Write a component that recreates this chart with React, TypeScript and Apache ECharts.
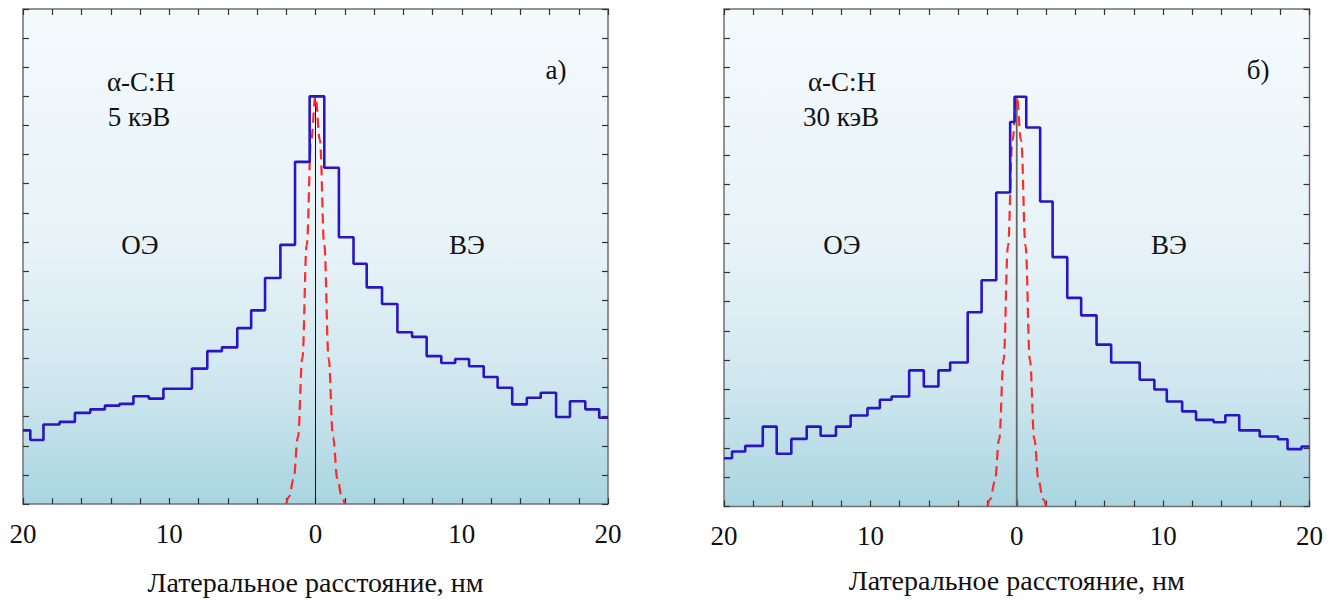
import React, { useEffect, useRef } from "react";
import * as echarts from "echarts";

// Panel а) 5 кэВ — histogram bin edges (nm) and heights (arb. units)
const edgesA = [
  -20, -19.5, -18.6, -17.5, -16.45, -15.4, -14.4, -13.4, -12.45, -11.4, -10.4,
  -8.45, -7.4, -6.4, -5.35, -4.4, -3.45, -2.4, -1.4, -0.4, 0.6, 1.6, 2.6, 3.5,
  4.55, 5.6, 6.6, 7.6, 8.6, 9.55, 10.5, 11.5, 12.45, 13.45, 14.45, 15.4, 16.45,
  17.4, 18.45, 19.4, 20,
];
const countsA = [
  2.53, 2.2, 2.73, 2.82, 3.13, 3.25, 3.38, 3.44, 3.7, 3.62, 3.96, 4.65, 5.25,
  5.38, 6.04, 6.65, 7.76, 8.9, 11.75, 14.0, 11.55, 9.16, 8.25, 7.44, 6.87, 5.9,
  5.74, 5.08, 4.84, 4.98, 4.73, 4.36, 3.99, 3.42, 3.65, 3.82, 2.99, 3.53, 3.25,
  2.96,
];

// Panel б) 30 кэВ
const edgesB = [
  -20, -19.45, -18.55, -17.35, -16.4, -15.4, -14.35, -13.4, -12.35, -11.35,
  -10.2, -9.35, -8.55, -7.35, -6.35, -5.35, -4.55, -3.35, -2.4, -1.4, -0.45,
  -0.15, 0.65, 1.6, 2.45, 3.45, 4.4, 5.45, 6.45, 8.4, 9.4, 10.25, 11.3, 12.25,
  13.45, 14.25, 15.2, 16.6, 17.85, 18.5, 19.45, 20,
];
const countsB = [
  1.65, 1.88, 2.07, 2.73, 1.8, 2.31, 2.73, 2.42, 2.73, 3.11, 3.36, 3.65, 3.76,
  4.65, 4.1, 4.65, 4.92, 6.64, 7.73, 10.73, 13.14, 14.0, 12.95, 10.42, 8.52,
  7.13, 6.53, 5.53, 4.92, 4.33, 4.0, 3.59, 3.25, 2.96, 2.88, 3.12, 2.6, 2.39,
  2.3, 1.96, 2.05,
];

// Red dashed beam profile
const beamX = [-2.0, -1.8, -1.5, -1.2, -0.9, -0.6, -0.3, 0, 0.3, 0.6, 0.9, 1.2, 1.5, 1.8, 2.0];
const beamY = [0, 0.25, 0.85, 2.3, 5.0, 8.9, 12.5, 14, 12.5, 8.9, 5.0, 2.3, 0.85, 0.25, 0];

// Axis settings
const xMin = -20;
const xMax = 20;
const xStep = 2;
const yMin = 0;
const yMax = 17;
const yStep = 1;

const xName = "Латеральное расстояние, нм";

function toSteps(edges: number[], vals: number[]) {
  const pts: number[][] = [];
  vals.forEach((v, i) => {
    pts.push([edges[i], v]);
    pts.push([edges[i + 1], v]);
  });
  return pts;
}

const SERIF = "Liberation Serif";
const FS = 27;

export default function App() {
  const ref = useRef<HTMLDivElement>(null);
  useEffect(() => {
    document.body.style.margin = "0";
    if (!ref.current) return;
    const chart = echarts.init(ref.current, undefined, { renderer: "svg" });

    const bg = () =>
      new echarts.graphic.LinearGradient(0, 0, 0, 1, [
        { offset: 0, color: "#f5fafd" },
        { offset: 0.5, color: "#e6f2f7" },
        { offset: 0.75, color: "#d0e7ef" },
        { offset: 1, color: "#a9d5e0" },
      ]);

    const grids = [
      { left: 23, top: 9, width: 585, height: 497.5 },
      { left: 724, top: 9, width: 585.5, height: 497.5 },
    ].map((g) => ({
      ...g,
      show: true,
      backgroundColor: bg(),
      borderColor: "#707070",
      borderWidth: 1.5,
    }));

    const tick = { show: true, inside: true, length: 6, lineStyle: { color: "#333", width: 1.2 } };

    const mkX = (gi: number, pos: "bottom" | "top", nameGap: number) => ({
      type: "value",
      gridIndex: gi,
      position: pos,
      min: xMin,
      max: xMax,
      interval: xStep,
      axisLine: { show: false, onZero: false },
      axisTick: tick,
      splitLine: { show: false },
      name: pos === "bottom" ? xName : "",
      nameLocation: "middle",
      nameGap,
      nameTextStyle: { fontFamily: SERIF, fontSize: 28, color: "#111" },
      axisLabel:
        pos === "bottom"
          ? {
              show: true,
              margin: 16,
              fontFamily: SERIF,
              fontSize: FS,
              color: "#111",
              formatter: (v: number) => (v % 10 === 0 ? String(Math.abs(v)) : ""),
            }
          : { show: false },
    });

    const mkY = (gi: number, pos: "left" | "right") => ({
      type: "value",
      gridIndex: gi,
      position: pos,
      min: yMin,
      max: yMax,
      interval: yStep,
      axisLine: { show: false, onZero: false },
      axisTick: tick,
      axisLabel: { show: false },
      splitLine: { show: false },
    });

    const panelSeries = (xi: number, yi: number, edges: number[], counts: number[], zeroColor: string, zeroW: number) => [
      {
        type: "line",
        xAxisIndex: xi,
        yAxisIndex: yi,
        data: [
          [0, 0],
          [0, 14],
        ],
        showSymbol: false,
        lineStyle: { color: zeroColor, width: zeroW },
        z: 2,
      },
      {
        type: "line",
        xAxisIndex: xi,
        yAxisIndex: yi,
        data: beamX.map((x, i) => [x, beamY[i]]),
        smooth: 0.4,
        smoothMonotone: "x",
        showSymbol: false,
        lineStyle: { color: "#ff2a2a", width: 2.2, type: [10, 6] },
        z: 3,
      },
      {
        type: "line",
        xAxisIndex: xi,
        yAxisIndex: yi,
        data: toSteps(edges, counts),
        showSymbol: false,
        lineStyle: { color: "#2a14c6", width: 2.6 },
        z: 4,
      },
    ];

    const txt = (text: string, x: number, y: number) => ({
      type: "text",
      x,
      y,
      style: {
        text,
        fontFamily: SERIF,
        fontSize: FS,
        fill: "#111",
        align: "center",
        verticalAlign: "middle",
      },
      z: 10,
    });

    chart.setOption({
      animation: false,
      textStyle: { fontFamily: SERIF },
      grid: grids,
      xAxis: [mkX(0, "bottom", 64), mkX(0, "top", 0), mkX(1, "bottom", 60), mkX(1, "top", 0)],
      yAxis: [mkY(0, "left"), mkY(0, "right"), mkY(1, "left"), mkY(1, "right")],
      series: [
        ...panelSeries(0, 0, edgesA, countsA, "#111", 1),
        ...panelSeries(2, 2, edgesB, countsB, "#666", 1.8),
      ],
      graphic: [
        txt("α-C:H", 141, 82),
        txt("5 кэВ", 139, 117),
        txt("ОЭ", 140, 245),
        txt("ВЭ", 467, 245),
        txt("а)", 556, 70),
        txt("α-C:H", 842, 82),
        txt("30 кэВ", 841, 117),
        txt("ОЭ", 842, 245),
        txt("ВЭ", 1169, 245),
        txt("б)", 1258, 70),
      ],
    });
    return () => chart.dispose();
  }, []);
  return <div ref={ref} style={{ width: 1340, height: 601 }} />;
}
